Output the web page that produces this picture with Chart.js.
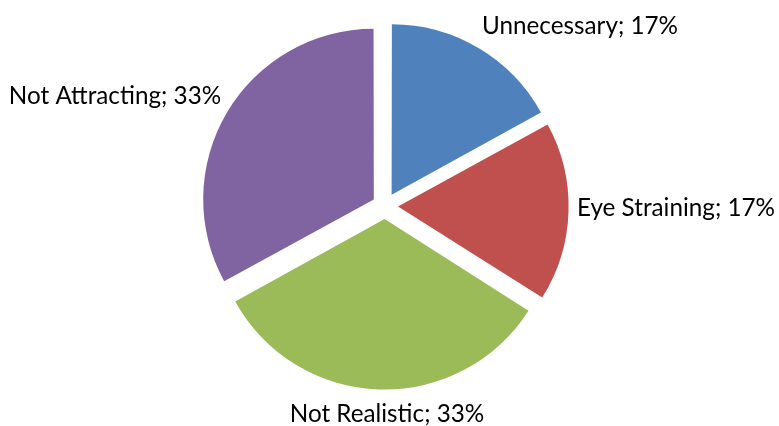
<!DOCTYPE html>
<html>
<head>
<meta charset="utf-8">
<script src="https://cdn.jsdelivr.net/npm/chart.js@4.4.1/dist/chart.umd.min.js"></script>
<style>
  html, body { margin: 0; padding: 0; background: #ffffff; }
  #wrap { width: 779px; height: 426px; position: relative; }
</style>
</head>
<body>
<div id="wrap"><canvas id="c" width="779" height="426"></canvas></div>
<script>
const categories = ["Unnecessary", "Eye Straining", "Not Realistic", "Not Attracting"];
const percentValues = [17, 17, 33, 33];
const sliceColors = ["#4F81BD", "#C0504D", "#9BBB59", "#8064A2"];

// label placement (text layout only): x, baseline y, alignment
const labelLayout = [
  { x: 580, y: 34, align: "center" },
  { x: 676, y: 216, align: "center" },
  { x: 387, y: 422, align: "center" },
  { x: 115, y: 104, align: "center" }
];

const FONT_FAMILY = "Lato, 'Open Sans', sans-serif";

const labelPlugin = {
  id: "outLabels",
  afterDatasetsDraw(chart) {
    const ctx = chart.ctx;
    const ds = chart.data.datasets[0];
    const labels = chart.data.labels.map((l, i) => l + "; " + ds.data[i] + "%");
    ctx.save();
    ctx.font = "100px " + FONT_FAMILY;
    const w100 = ctx.measureText(labels[0]).width;
    const size = 196 / w100 * 100;
    ctx.font = size.toFixed(2) + "px " + FONT_FAMILY;
    ctx.fillStyle = "#000000";
    ctx.textBaseline = "alphabetic";
    labels.forEach((t, i) => {
      const p = labelLayout[i];
      ctx.textAlign = p.align;
      ctx.fillText(t, p.x, p.y);
    });
    ctx.restore();
  }
};

new Chart(document.getElementById("c"), {
  type: "pie",
  data: {
    labels: categories,
    datasets: [{
      data: percentValues,
      backgroundColor: sliceColors,
      borderWidth: 0,
      offset: 52
    }]
  },
  options: {
    responsive: false,
    animation: false,
    radius: 169,
    layout: { padding: { left: 0, right: 9, top: 0, bottom: 14 } },
    plugins: {
      legend: { display: false },
      tooltip: { enabled: false }
    }
  },
  plugins: [labelPlugin]
});
</script>
</body>
</html>
